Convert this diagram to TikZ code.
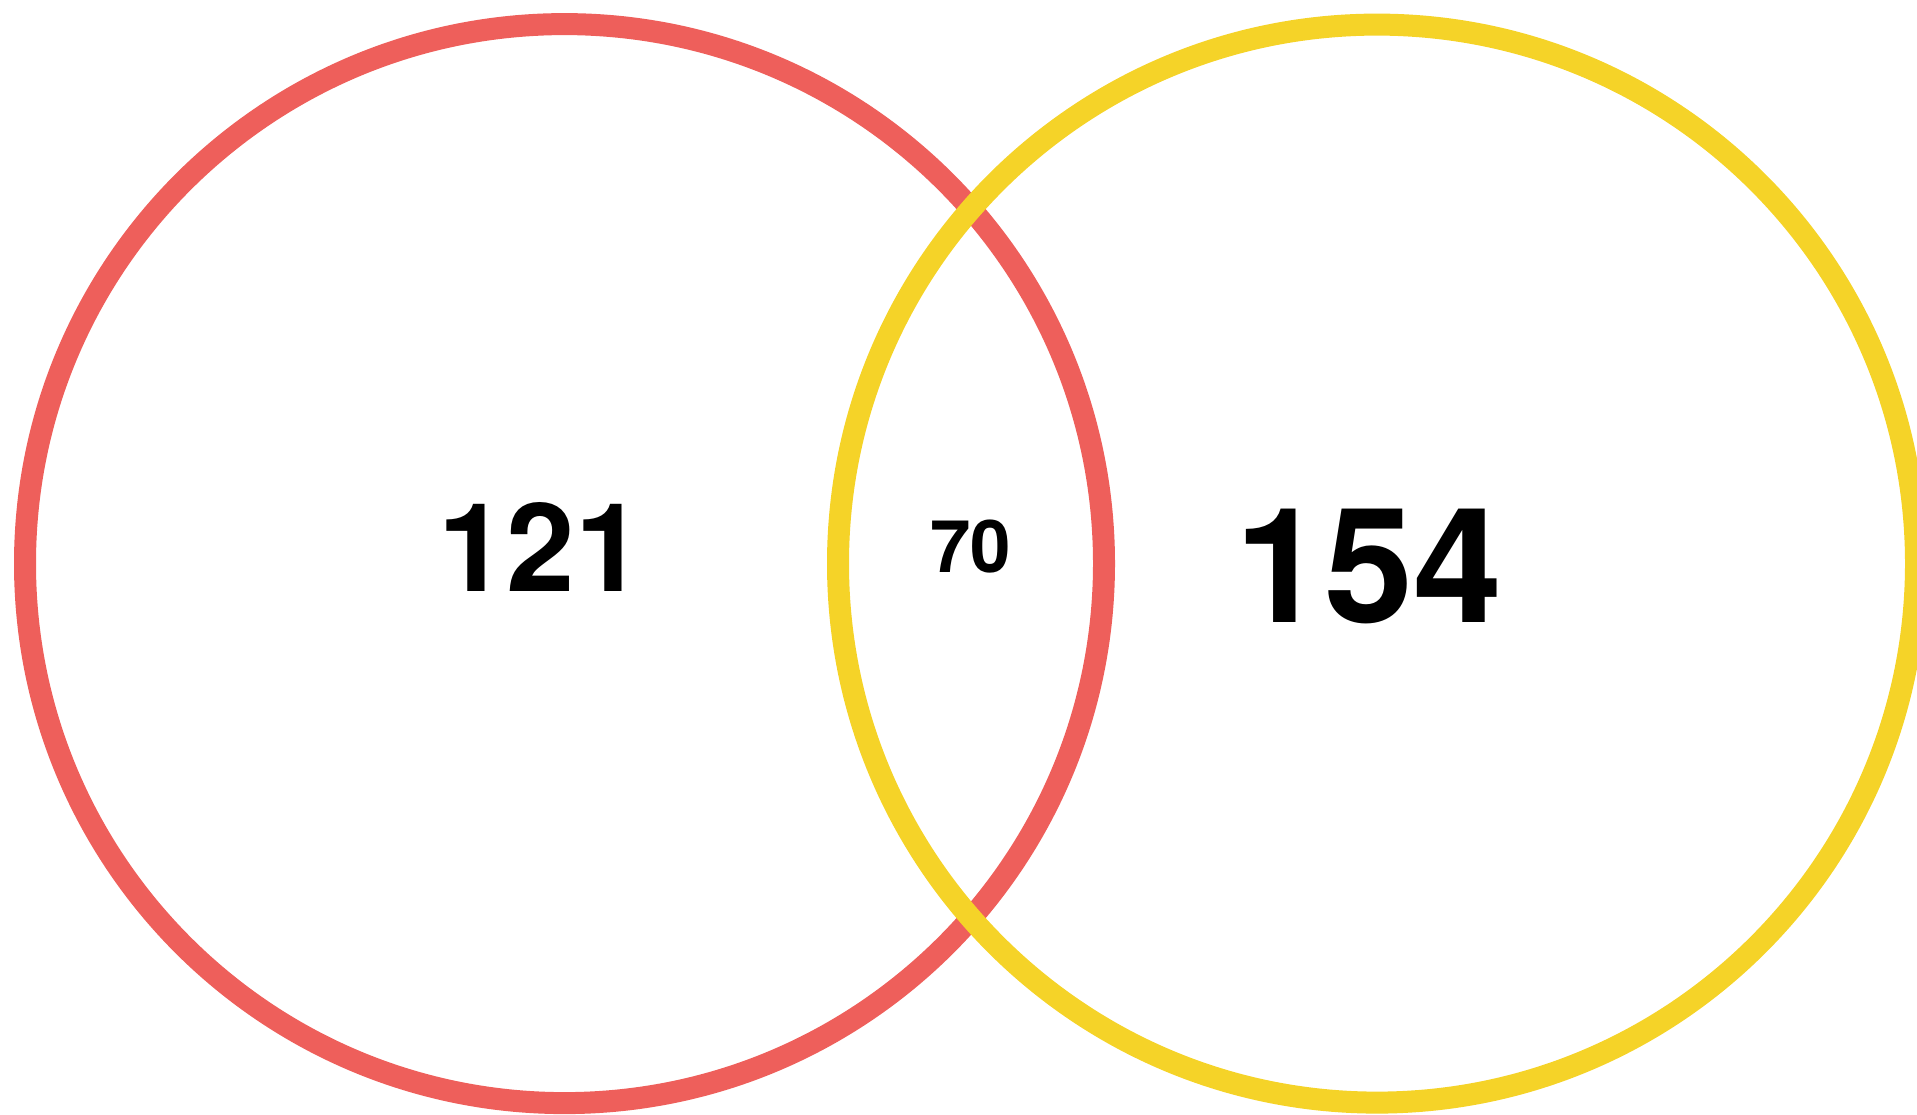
\documentclass[tikz,border=0pt]{standalone}
\usepackage{fontspec}
\setmainfont{TeX Gyre Heros}
\definecolor{vred}{HTML}{EE5F5B}
\definecolor{vyellow}{HTML}{F5D328}
\begin{document}
\begin{tikzpicture}[x=1pt,y=-1pt,
  ring/.style={line width=22pt},
  count/.style={inner sep=0pt,font=\bfseries}]
\useasboundingbox (0,0) rectangle (1917,1115);
\coordinate (cl) at (564.5,563.6);
\coordinate (cr) at (1377,563.6);
\draw[ring,vred] (cl) circle[radius=539.5pt];
\draw[ring,vyellow] (cr) circle[radius=539pt];
\node[count,font=\fontsize{123}{123}\bfseries\selectfont] (a) at (541,547) {121};
\node[count,font=\fontsize{72.6}{72.6}\bfseries\selectfont] (ab) at (970.5,546.7) {70};
\node[count,font=\fontsize{160}{160}\bfseries\selectfont] (b) at (1369,566) {154};
\end{tikzpicture}
\end{document}
